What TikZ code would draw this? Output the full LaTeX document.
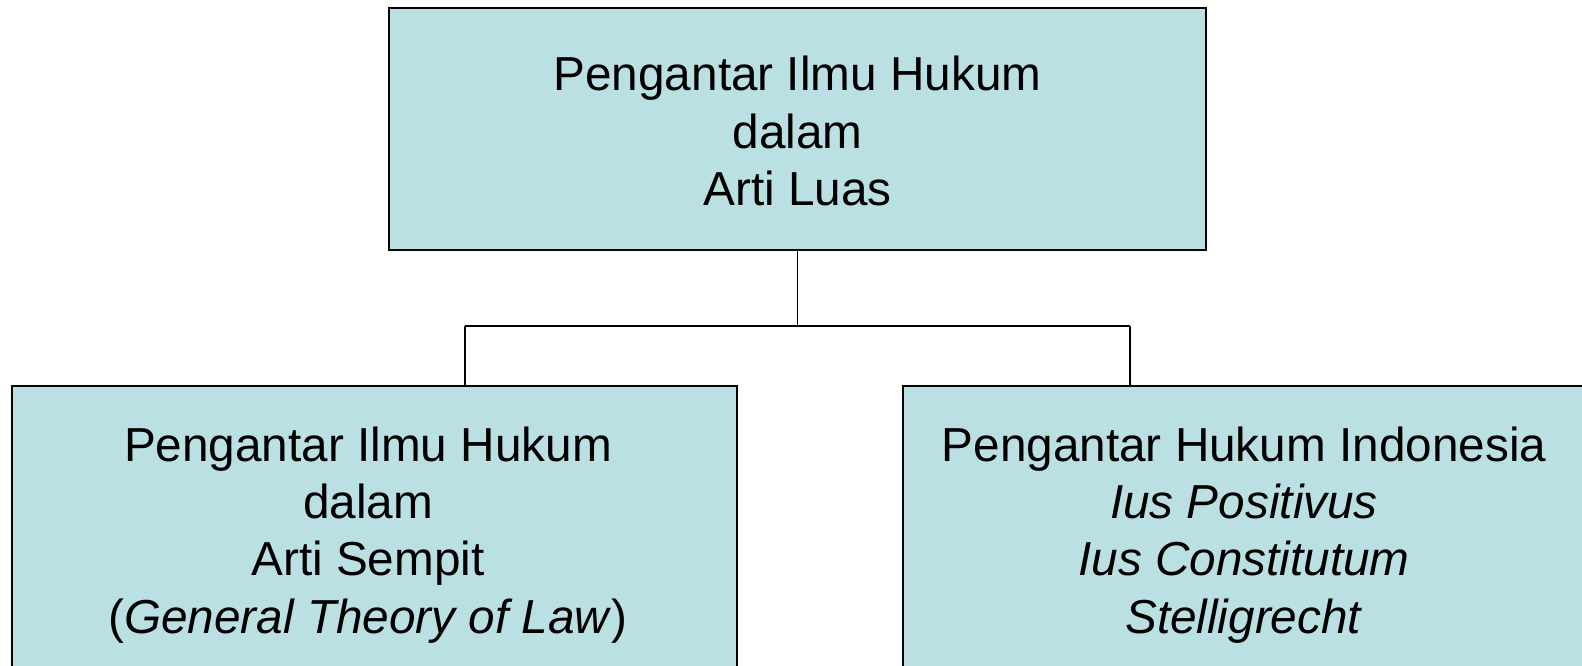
\documentclass[tikz,border=0pt]{standalone}
\usepackage{fontspec}
\setmainfont{Liberation Sans}
\definecolor{boxfill}{HTML}{BBE0E3}
\begin{document}
\begin{tikzpicture}[x=1pt,y=-1pt,
  box/.style={draw=black,line width=1.6pt,fill=boxfill,inner sep=0pt},
  txt/.style={inner sep=0pt,align=center,font=\fontsize{47.7}{57.3}\selectfont},
  conn/.style={draw=black,line width=1.6pt}]
\useasboundingbox (0,0) rectangle (1582,665);
\node[box,minimum width=817,minimum height=242] (top) at (797.5,129) {};
\node[txt] (toptext) at (797.5,131)
  {Pengantar Ilmu Hukum\\dalam\\Arti Luas};
\node[box,minimum width=725,minimum height=292] (left) at (374.5,532) {};
\node[txt] (lefttext) at (368,535)
  {Pengantar Ilmu Hukum\\dalam\\Arti Sempit\\(\textit{General Theory of Law})};
\node[box,minimum width=685,minimum height=292] (right) at (1245.5,532) {};
\node[txt] (righttext) at (1244,535)
  {Pengantar Hukum Indonesia\\\textit{Ius Positivus}\\\textit{Ius Constitutum}\\\textit{Stelligrecht}};
\coordinate (j) at (797.5,326);
\coordinate (cl) at (465,326);
\coordinate (cr) at (1130,326);
\draw[conn] (top.south) -- (j);
\draw[conn] (cl) -- (cr);
\draw[conn] (cl) -- (cl |- left.north);
\draw[conn] (cr) -- (cr |- right.north);
\end{tikzpicture}
\end{document}
